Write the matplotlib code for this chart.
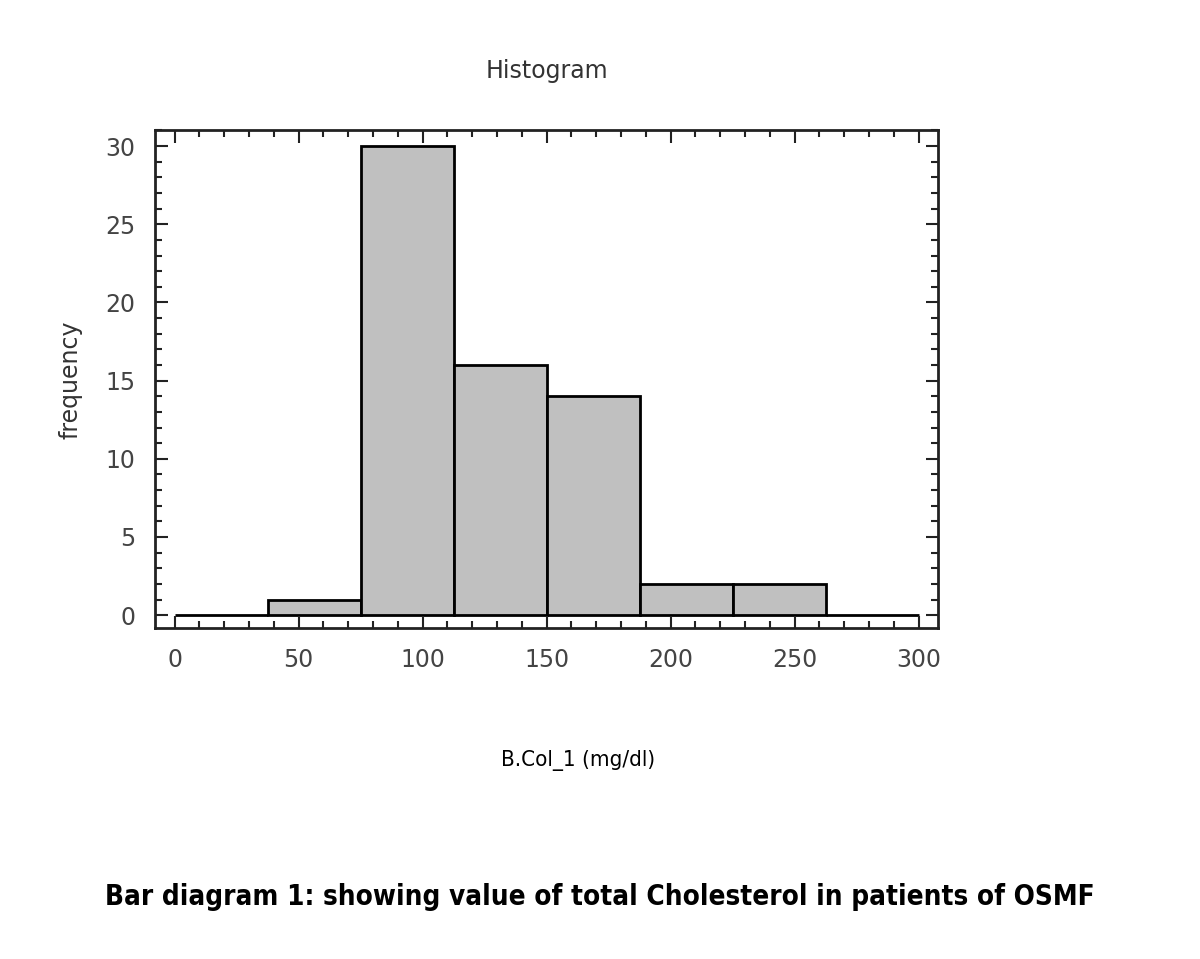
import matplotlib
matplotlib.use("Agg")
import matplotlib.pyplot as plt
import numpy as np
from matplotlib.ticker import MultipleLocator

# histogram bins of B.Col_1 (mg/dl)
bin_edges = [0, 37.5, 75, 112.5, 150, 187.5, 225, 262.5, 300]
counts = [0, 1, 30, 16, 14, 2, 2, 0]

title = "Histogram"
xlabel = "B.Col_1 (mg/dl)"
ylabel = "frequency"
caption = "Bar diagram 1: showing value of total Cholesterol in patients of OSMF"

fig = plt.figure(figsize=(12, 9.59), dpi=100)
ax = fig.add_axes([0.129, 0.345, 0.653, 0.519])

left = np.array(bin_edges[:-1])
widths = np.diff(bin_edges)
ax.bar(left, counts, width=widths, align="edge", color="#c0c0c0",
       edgecolor="black", linewidth=2)

ax.set_xlim(-8, 308)
ax.set_ylim(-0.83, 31)
ax.xaxis.set_major_locator(MultipleLocator(50))
ax.xaxis.set_minor_locator(MultipleLocator(10))
ax.yaxis.set_major_locator(MultipleLocator(5))
ax.yaxis.set_minor_locator(MultipleLocator(1))
ax.tick_params(which="both", direction="in", top=True, right=True,
               colors="#222222", labelcolor="#444444", labelsize=17)
ax.tick_params(which="major", length=9, width=1.5, pad=14)
ax.tick_params(which="minor", length=5, width=1.5)
for s in ax.spines.values():
    s.set_linewidth(2)
    s.set_color("#222222")

ax.set_title(title, fontsize=17, color="#333333", pad=38)
ax.set_ylabel(ylabel, fontsize=17, color="#333333", labelpad=16)

fig.text(0.482, 0.207, xlabel, ha="center", va="center", fontsize=16,
         family="DejaVu Sans", stretch="condensed", color="black")
fig.text(0.5, 0.065, caption, ha="center", va="center", fontsize=20,
         family="DejaVu Sans", stretch="condensed", weight="bold",
         color="black")

fig.savefig("out.png", dpi=100, facecolor="white")
